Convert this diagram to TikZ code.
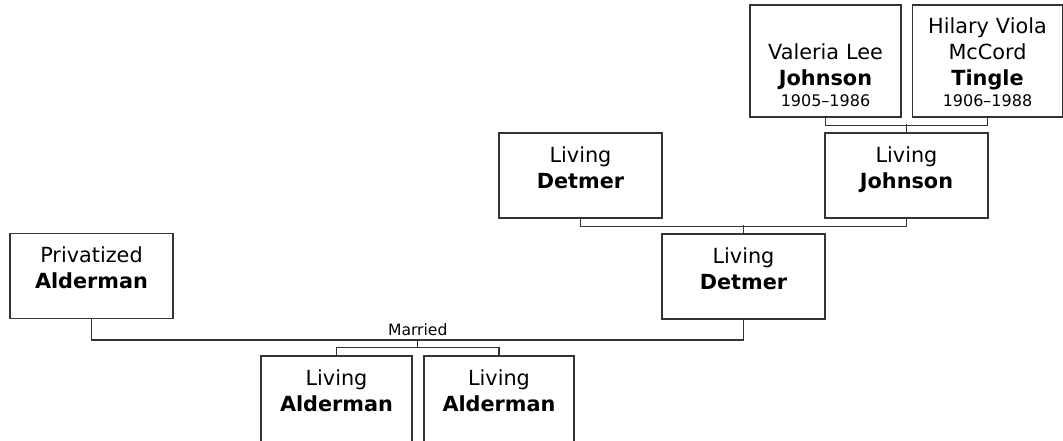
\documentclass[tikz,border=0pt]{standalone}
\usepackage{fontspec}
\setmainfont{DejaVu Sans}
\usetikzlibrary{positioning}
\newcommand\namefont{\fontsize{20.8}{26}\selectfont}
\newcommand\datefont{\fontsize{16}{19}\selectfont}
\newcommand\wedfont{\fontsize{15.6}{18}\selectfont}

\begin{document}
\begin{tikzpicture}[x=1pt,y=1pt,
  person/.style={draw=black!80,line width=1.2pt,inner sep=0pt,align=center,font=\namefont,
                 text width=#1,text height=29pt,text depth=56pt},
  person/.default=163pt,
  link/.style={draw=black!80,line width=1.2pt}]
\useasboundingbox (0,0) rectangle (1063,-441);
% grandparents
\node[person=151pt,text height=55pt,text depth=57pt] (valeria) at (825.5,-61)
  {Valeria Lee\\\textbf{Johnson}\\[-5pt]{\datefont 1905–1986}};
\node[person=150pt,text depth=83pt] (hilary) at (987.5,-61)
  {Hilary Viola\\McCord\\\textbf{Tingle}\\[-5pt]{\datefont 1906–1988}};
% parents
\node[person] (johnson) at (906.5,-175.5) {Living\\\textbf{Johnson}};
\node[person] (detmerA) at (580.5,-175.5) {Living\\\textbf{Detmer}};
\node[person] (detmerB) at (743.5,-276.5) {Living\\\textbf{Detmer}};
\node[person] (privAlderman) at (91.5,-276) {Privatized\\\textbf{Alderman}};
% children
\node[person=151pt,text depth=66pt] (kidA) at (336.5,-403.5) {Living\\\textbf{Alderman}};
\node[person=150pt,text depth=66pt] (kidB) at (499,-403.5) {Living\\\textbf{Alderman}};
\coordinate (wed) at (417.75,-340);
\node[above=4pt of wed,inner sep=0pt,font=\wedfont] (married) {Married};
% lines
\draw[link] (valeria.south) -- ++(0,-8) -| (hilary.south);
\draw[link] (johnson.north) -- ++(0,8);
\draw[link] (detmerA.south) -- ++(0,-8) -| (johnson.south);
\draw[link] (detmerB.north) -- ++(0,8);
\draw[link] (privAlderman.south) |- (wed) -| (detmerB.south);
\draw[link] (wed) -- ++(0,-8);
\draw[link] (kidA.north) -- ++(0,8) -| (kidB.north);
\end{tikzpicture}
\end{document}
